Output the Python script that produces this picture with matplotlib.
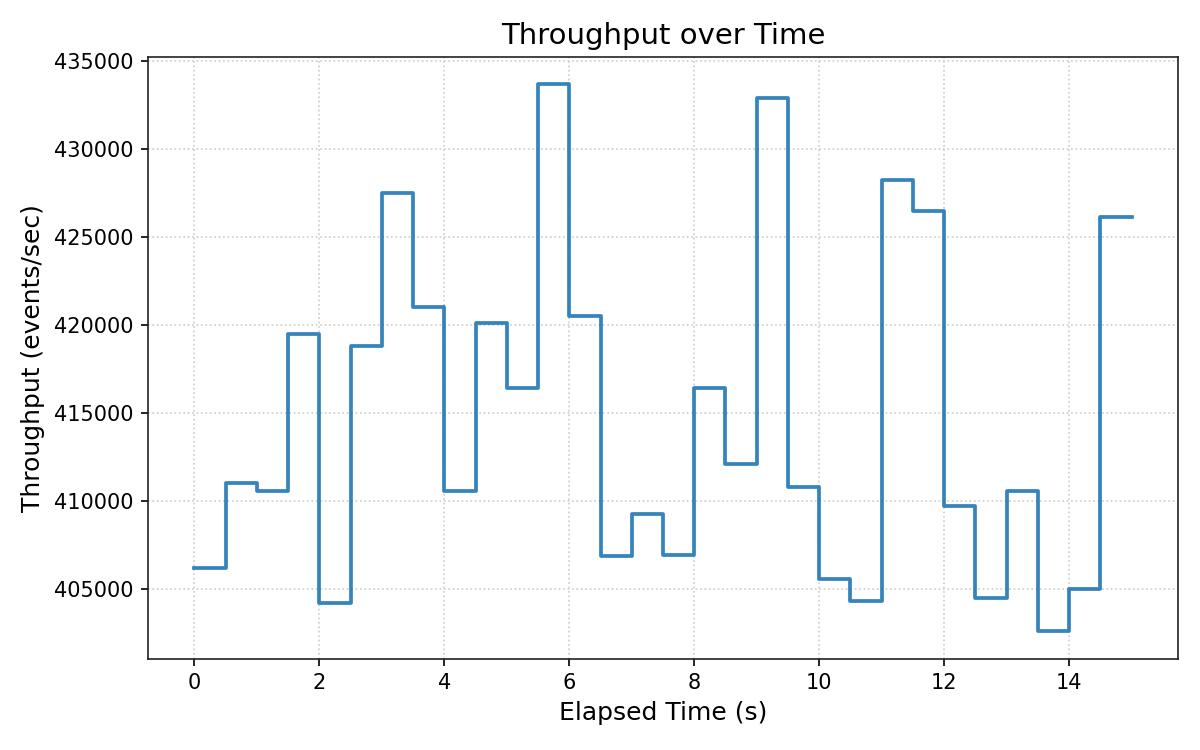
import numpy as np
import matplotlib
matplotlib.use("Agg")
import matplotlib.pyplot as plt

# elapsed time (s), sampled every 0.5 s
elapsed = np.arange(0, 15.5, 0.5)

# throughput per interval (events/sec); last value repeated to close the step
throughput = [
    406200, 411050, 410600, 419500, 404200, 418800, 427500, 421000,
    410550, 420100, 416400, 433650, 420500, 406900, 409250, 406950,
    416400, 412100, 432850, 410800, 405600, 404330, 428250, 426480,
    409750, 404480, 410550, 402620, 405000, 426100, 426100,
]

fig, ax = plt.subplots(figsize=(8, 5), dpi=150)
ax.step(elapsed, throughput, where="post", color="#1f77b4", alpha=0.9, linewidth=1.8)

ax.set_title("Throughput over Time", fontsize=14)
ax.set_xlabel("Elapsed Time (s)", fontsize=12)
ax.set_ylabel("Throughput (events/sec)", fontsize=12)
ax.grid(True, linestyle=":", color="#cccccc", linewidth=0.8)
for s in ax.spines.values():
    s.set_color("#222222")

fig.subplots_adjust(left=0.123, right=0.982, top=0.924, bottom=0.122)
fig.savefig("out.png")
